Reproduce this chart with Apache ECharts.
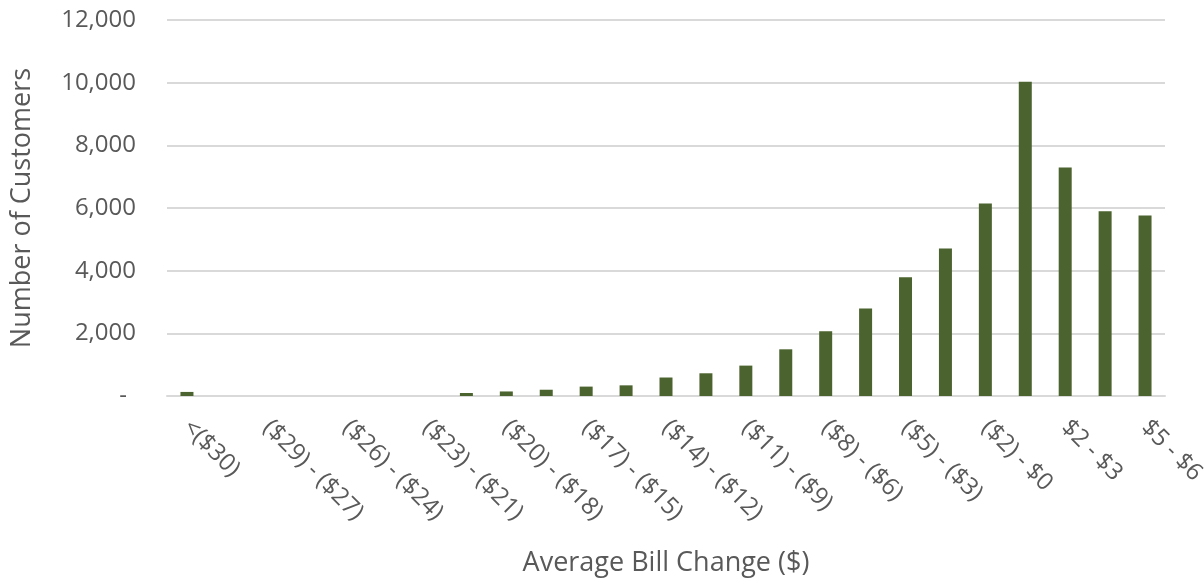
<!DOCTYPE html>
<html>
<head>
<meta charset="utf-8">
<style>
  html, body { margin: 0; padding: 0; background: #ffffff; }
  #chart { width: 1204px; height: 584px; }
</style>
<script src="https://cdn.jsdelivr.net/npm/echarts@6/dist/echarts.min.js"></script>
</head>
<body>
<div id="chart"></div>
<script>
// Bill-change bins (every other one is labelled on the axis)
const categories = [
  '<($30)', '($30) - ($29)', '($29) - ($27)', '($27) - ($26)', '($26) - ($24)',
  '($24) - ($23)', '($23) - ($21)', '($21) - ($20)', '($20) - ($18)', '($18) - ($17)',
  '($17) - ($15)', '($15) - ($14)', '($14) - ($12)', '($12) - ($11)', '($11) - ($9)',
  '($9) - ($8)', '($8) - ($6)', '($6) - ($5)', '($5) - ($3)', '($3) - ($2)',
  '($2) - $0', '$0 - $2', '$2 - $3', '$3 - $5', '$5 - $6'
];

// Customers per bin
const customers = [
  130, 0, 0, 0, 0,
  0, 0, 95, 145, 200,
  300, 340, 590, 725, 970,
  1490, 2065, 2790, 3790, 4710,
  6145, 10030, 7295, 5900, 5760
];

// Value axis ticks
const yTicks = [0, 2000, 4000, 6000, 8000, 10000, 12000];

const FONT = '"Open Sans", "Liberation Sans", sans-serif';
const TEXT = '#595959';

const chart = echarts.init(document.getElementById('chart'), null, { renderer: 'canvas' });

chart.setOption({
  animation: false,
  grid: {
    left: 167, right: 39, top: 20, bottom: 188,
    containLabel: false,
    outerBoundsMode: 'none'
  },
  xAxis: {
    type: 'category',
    data: categories,
    name: 'Average Bill Change ($)',
    nameLocation: 'middle',
    nameGap: 154,
    nameTextStyle: { color: TEXT, fontFamily: FONT, fontSize: 27 },
    axisLine: { show: true, lineStyle: { color: '#d9d9d9', width: 2 } },
    axisTick: { show: false },
    axisLabel: {
      interval: 1,
      rotate: -45,
      margin: 28,
      color: TEXT,
      fontFamily: FONT,
      fontSize: 24
    }
  },
  yAxis: {
    type: 'value',
    min: yTicks[0],
    max: yTicks[yTicks.length - 1],
    interval: yTicks[1] - yTicks[0],
    name: 'Number of Customers',
    nameLocation: 'middle',
    nameRotate: 90,
    nameGap: 131,
    nameTextStyle: { color: TEXT, fontFamily: FONT, fontSize: 27 },
    axisLine: { show: false },
    axisTick: { show: false },
    splitLine: { lineStyle: { color: '#d9d9d9', width: 2 } },
    axisLabel: {
      margin: 31,
      color: TEXT,
      fontFamily: FONT,
      fontSize: 24,
      formatter: function (v) {
        return v === 0 ? '{z|-}' : v.toLocaleString('en-US');
      },
      rich: { z: { color: TEXT, fontFamily: FONT, fontSize: 24, padding: [0, 9, 0, 0] } }
    }
  },
  series: [{
    type: 'bar',
    data: customers,
    barWidth: 13,
    itemStyle: { color: '#4b632e' }
  }]
});
</script>
</body>
</html>
